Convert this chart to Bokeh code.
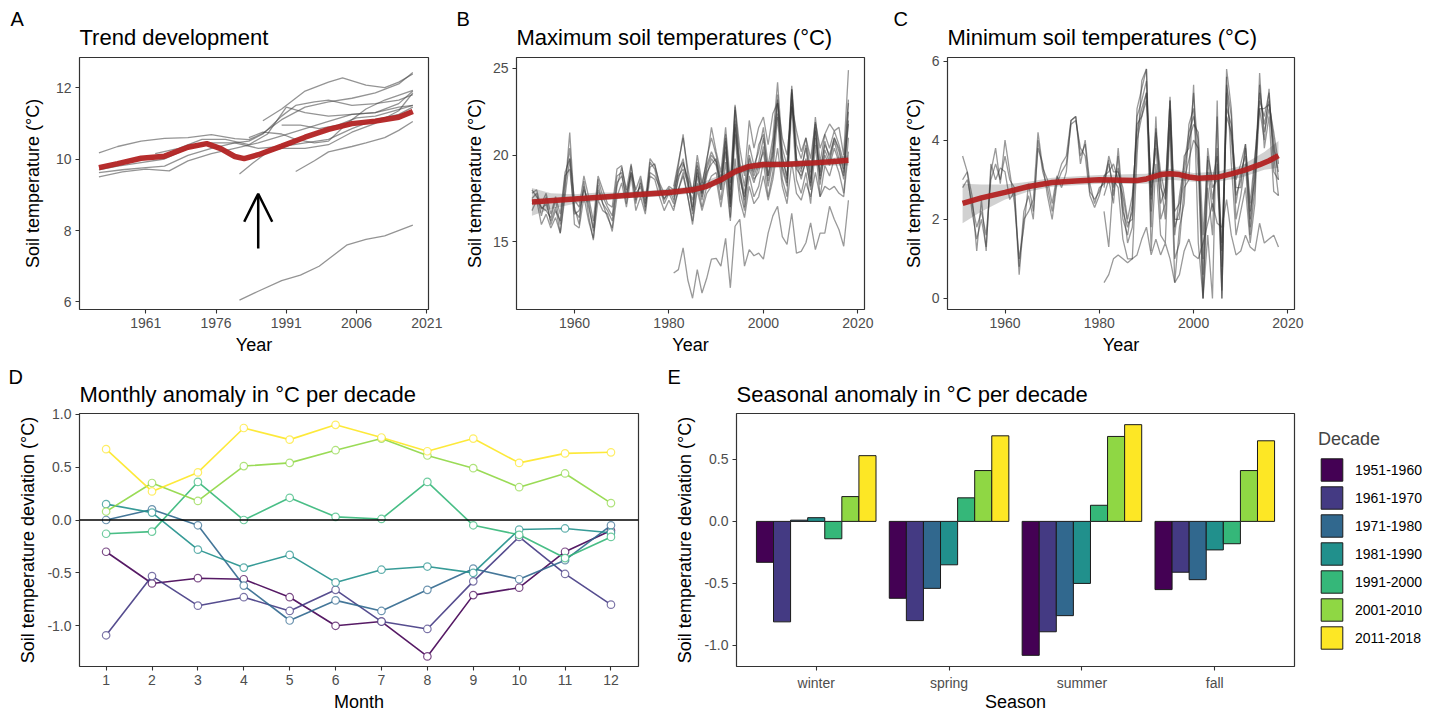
from bokeh.plotting import figure
from bokeh.models import (Range1d, FixedTicker, Title, Arrow, OpenHead, Span,
                          Legend, LegendItem, ColumnDataSource)
from bokeh.layouts import column, row
from bokeh.transform import dodge
from bokeh.embed import file_html
from bokeh.resources import INLINE

FONT = "Liberation Sans"

# ---------------- Panel A: trend development (smoothed station trends) ----------------
a_red_years = [1951, 1955, 1960, 1965, 1970, 1974, 1977, 1980, 1982, 1985, 1990, 1995, 2000, 2005, 2010, 2015, 2018]
a_red_vals = [9.76, 9.87, 10.02, 10.08, 10.33, 10.43, 10.29, 10.07, 10.01, 10.12, 10.36, 10.61, 10.83, 10.99, 11.06, 11.17, 11.33]

a1_years = [1951, 1955, 1960, 1965, 1970, 1975, 1980, 1983, 1986, 1990, 1995, 2000, 2005, 2010, 2015, 2018]
a1_vals = [10.17, 10.35, 10.5, 10.58, 10.6, 10.68, 10.57, 10.54, 10.72, 11.1, 11.45, 11.6, 11.7, 11.85, 12.1, 12.42]
a2_years = [1986, 1990, 1995, 2000, 2003, 2008, 2012, 2015, 2018]
a2_vals = [11.07, 11.4, 11.9, 12.15, 12.27, 12.07, 12.0, 12.15, 12.38]
a3_years = [1951, 1956, 1961, 1966, 1970, 1975, 1980, 1985, 1990, 1995, 2000, 2005, 2010, 2015, 2018]
a3_vals = [9.5, 9.64, 9.72, 9.67, 9.95, 10.15, 10.3, 10.45, 10.65, 10.85, 11.05, 11.25, 11.3, 11.55, 11.9]
a4_years = [1951, 1956, 1961, 1965, 1970, 1975, 1980, 1983, 1986, 1990, 1993, 1997, 2000, 2005, 2010, 2015, 2018]
a4_vals = [9.62, 9.7, 9.76, 9.8, 10.1, 10.3, 10.45, 10.5, 10.7, 11.2, 11.5, 11.6, 11.65, 11.5, 11.55, 11.65, 11.8]
a5_years = [1951, 1955, 1960, 1965, 1970, 1975, 1980, 1985, 1990, 1995, 2000, 2005, 2010, 2015, 2018]
a5_vals = [9.7, 9.8, 9.9, 10.0, 10.3, 10.45, 10.45, 10.3, 10.35, 10.45, 10.55, 10.85, 11.1, 11.25, 11.45]
a6_years = [1963, 1968, 1973, 1978, 1983, 1987, 1991, 1995, 2000, 2005, 2010, 2015, 2018]
a6_vals = [10.15, 10.3, 10.55, 10.55, 10.4, 10.7, 11.45, 11.3, 11.2, 11.25, 11.3, 11.45, 11.5]
a7_years = [1981, 1984, 1987, 1990, 1995, 2000, 2005, 2010, 2015, 2018]
a7_vals = [9.58, 9.9, 10.2, 10.3, 10.3, 10.4, 10.75, 11.0, 11.35, 11.85]
a8_years = [1993, 1997, 2000, 2005, 2008, 2012, 2015, 2018]
a8_vals = [9.65, 9.95, 10.2, 10.35, 10.45, 10.6, 10.8, 11.05]
a9_years = [1990, 1994, 1998, 2002, 2006, 2010, 2014, 2018]
a9_vals = [10.95, 10.95, 10.85, 10.95, 11.15, 11.2, 11.35, 11.5]
a10_years = [1983, 1986, 1990, 1993, 1997, 2000, 2004, 2008, 2012, 2018]
a10_vals = [10.6, 10.75, 10.7, 10.55, 10.45, 10.5, 11.0, 11.4, 11.65, 11.92]
a11_years = [1981, 1985, 1990, 1994, 1998, 2001, 2004, 2008, 2012, 2018]
a11_vals = [6.05, 6.3, 6.6, 6.75, 7.0, 7.3, 7.6, 7.75, 7.85, 8.15]

arrow_year = 1985
arrow_from = 7.5
arrow_to = 9.03

# ---------------- Panel B: maximum soil temperatures ----------------
b_red_years = [1951, 1960, 1970, 1980, 1985, 1988, 1991, 1994, 1997, 2000, 2005, 2010, 2015, 2018]
b_red_vals = [17.3, 17.47, 17.66, 17.85, 18.0, 18.2, 18.58, 19.05, 19.35, 19.46, 19.48, 19.54, 19.64, 19.7]
b_band_years = [1951, 1955, 1960, 1965, 1970, 1980, 1985, 1990, 1995, 2000, 2005, 2010, 2015, 2018]
b_band_lo = [16.5, 16.9, 17.2, 17.35, 17.5, 17.65, 17.8, 18.25, 18.95, 19.25, 19.3, 19.35, 19.4, 19.4]
b_band_hi = [18.1, 17.8, 17.75, 17.85, 17.85, 18.05, 18.2, 18.75, 19.4, 19.65, 19.65, 19.7, 19.85, 20.0]

b_s1 = [17.8, 18.0, 16.9, 17.2, 16.2, 17.0, 15.5, 18.0, 21.3, 17.0,
        16.0, 18.5, 16.5, 15.1, 18.3, 17.2, 16.4, 15.8, 18.2, 19.3,
        18.0, 19.5, 17.2, 18.6, 17.0, 19.3, 19.5, 18.3, 17.4, 18.1,
        17.4, 18.6, 19.5, 18.6, 17.0, 19.2, 17.6, 19.0, 19.5, 19.8,
        18.3, 20.5, 17.0, 22.0, 18.8, 17.4, 19.5, 18.6, 19.0, 20.5,
        18.5, 20.0, 23.5, 19.4, 18.4, 23.8, 19.5, 18.6, 19.8, 18.0,
        21.8, 18.3, 20.3, 19.6, 20.8, 19.8, 18.6, 22.5]
b_s2 = [17.5, 17.8, 16.5, 17.6, 16.0, 16.8, 16.2, 18.8, 19.2, 16.6,
        16.8, 18.0, 17.3, 15.6, 18.6, 17.6, 17.0, 16.5, 18.8, 19.0,
        17.2, 19.4, 17.8, 18.2, 16.8, 19.6, 19.2, 18.0, 17.5, 17.8,
        17.8, 19.0, 19.8, 18.2, 17.4, 19.0, 17.8, 19.4, 20.2, 19.6,
        18.0, 20.8, 17.6, 21.8, 19.0, 17.8, 19.8, 18.8, 19.6, 21.0,
        18.8, 20.2, 22.4, 19.8, 18.8, 23.2, 19.8, 19.2, 20.4, 18.4,
        21.0, 18.8, 20.8, 19.8, 21.0, 20.2, 19.0, 22.0]
b_s3 = [16.8, 17.4, 16.0, 16.6, 15.8, 16.4, 15.5, 17.6, 19.8, 16.0,
        15.8, 17.6, 16.2, 15.2, 17.4, 16.8, 16.6, 15.6, 17.6, 18.4,
        17.0, 18.8, 16.8, 17.6, 16.6, 18.8, 18.6, 17.6, 16.8, 17.4,
        16.8, 18.0, 19.0, 17.6, 16.2, 18.4, 17.0, 18.2, 18.8, 19.0,
        17.4, 19.6, 16.4, 21.2, 18.0, 16.8, 18.8, 17.6, 18.2, 19.6,
        17.6, 19.0, 22.2, 18.6, 17.6, 22.8, 18.6, 17.8, 19.0, 17.2,
        20.6, 17.6, 19.4, 18.8, 19.8, 19.0, 17.8, 21.0]
b_s4 = [18.0, 17.6, 17.2, 17.8, 16.6, 17.6, 16.6, 19.0, 19.8, 17.4,
        17.0, 18.8, 17.6, 16.2, 18.8, 18.0, 17.2, 17.0, 19.2, 19.4,
        17.8, 19.0, 18.0, 18.8, 17.4, 19.8, 19.4, 18.4, 17.8, 18.2,
        18.0, 19.4, 21.2, 18.8, 17.8, 19.6, 18.2, 19.8, 21.0, 20.0,
        18.6, 21.2, 18.0, 22.8, 19.6, 18.2, 20.6, 19.4, 20.2, 21.6,
        19.4, 21.0, 24.2, 20.4, 19.4, 24.0, 20.6, 19.8, 21.0, 19.0,
        22.2, 19.6, 21.2, 20.4, 21.4, 20.6, 19.6, 23.2]
b_s5 = [17.2, 17.4, 17.0, 16.8, 16.4, 17.4, 16.0, 18.4, 20.4, 16.8,
        16.4, 18.2, 17.0, 15.8, 18.0, 17.2, 16.8, 16.2, 18.4, 18.8,
        17.6, 19.0, 17.4, 18.4, 17.2, 19.0, 18.8, 18.2, 17.2, 17.8,
        17.2, 18.8, 19.2, 18.4, 16.8, 18.8, 17.4, 18.8, 19.8, 19.4,
        18.0, 20.2, 17.2, 21.6, 18.6, 17.6, 19.2, 18.4, 19.4, 20.2,
        18.2, 19.6, 23.0, 19.2, 18.2, 23.6, 19.2, 18.8, 19.6, 18.2,
        21.4, 18.6, 20.0, 19.4, 20.4, 19.6, 18.8, 21.8]
# stations starting 1981
b_r1 = [18.2, 19.6, 21.0, 19.2, 17.8, 20.0, 18.4, 19.6, 21.6, 20.2,
        19.0, 21.6, 18.4, 22.9, 20.4, 18.8, 22.0, 20.4, 21.6, 22.2,
        20.6, 22.4, 23.0, 21.0, 20.0, 22.8, 21.4, 20.2, 21.0, 19.8,
        21.9, 20.4, 21.2, 21.8, 21.4, 21.6, 20.0, 24.9]
b_r2 = [17.0, 18.0, 18.8, 17.6, 16.0, 18.0, 16.8, 17.8, 18.2, 18.6,
        17.0, 18.8, 16.2, 19.8, 17.4, 16.4, 18.2, 17.2, 17.6, 18.8,
        17.4, 18.6, 20.4, 18.2, 17.2, 19.6, 17.8, 17.4, 18.4, 17.6,
        19.0, 17.6, 18.2, 18.0, 18.2, 17.8, 17.6, 20.2]
b_r3 = [17.6, 19.2, 19.6, 18.6, 16.6, 19.4, 17.8, 19.2, 20.0, 19.6,
        18.4, 21.0, 17.0, 22.6, 19.2, 17.0, 20.0, 19.0, 20.6, 21.2,
        18.8, 20.6, 23.2, 20.0, 18.6, 23.8, 19.6, 19.0, 20.6, 18.6,
        21.6, 19.0, 20.6, 20.0, 21.0, 20.4, 19.2, 23.0]
b_low = [13.2, 13.4, 14.65, 12.8, 11.75, 13.4, 12.05, 12.9, 14.0, 14.05,
         13.6, 15.2, 12.35, 15.9, 16.3, 13.6, 14.55, 14.2, 14.35, 14.0,
         15.5, 16.5, 17.05, 15.3, 14.85, 16.65, 14.35, 14.45, 14.95, 16.1,
         14.55, 15.5, 15.5, 17.05, 16.3, 15.7, 14.75, 17.4]

# ---------------- Panel C: minimum soil temperatures ----------------
c_red_years = [1951, 1955, 1960, 1965, 1970, 1975, 1980, 1985, 1988, 1990, 1993, 1995, 1997, 1999, 2001, 2005, 2008, 2011, 2014, 2016, 2018]
c_red_vals = [2.4, 2.54, 2.68, 2.83, 2.93, 2.97, 3.0, 2.99, 2.98, 3.02, 3.13, 3.15, 3.13, 3.07, 3.04, 3.06, 3.15, 3.25, 3.38, 3.48, 3.61]
c_band_years = [1951, 1955, 1960, 1965, 1970, 1980, 1990, 1995, 2000, 2005, 2010, 2015, 2018]
c_band_lo = [1.9, 2.2, 2.5, 2.7, 2.82, 2.9, 2.9, 3.0, 2.95, 2.95, 3.05, 3.25, 3.3]
c_band_hi = [2.9, 2.88, 2.88, 2.95, 3.05, 3.12, 3.15, 3.28, 3.17, 3.2, 3.35, 3.7, 3.98]

c_s1 = [3.6, 3.2, 2.6, 1.2, 2.5, 1.2, 3.4, 3.0, 3.3, 3.2,
        2.5, 2.7, 0.6, 2.0, 2.2, 2.5, 4.2, 3.3, 3.0, 2.4,
        3.1, 2.8, 3.2, 4.5, 4.6, 3.4, 4.0, 2.9, 2.4, 2.8,
        2.9, 3.4, 2.8, 3.3, 2.2, 1.8, 2.2, 4.6, 5.0, 5.5,
        2.5, 4.3, 2.8, 2.5, 5.0, 1.8, 2.2, 3.0, 3.5, 4.0,
        3.8, 0.0, 3.5, 2.5, 3.4, 0.2, 5.2, 4.0, 2.6, 3.0,
        3.8, 2.0, 3.5, 5.2, 4.4, 5.0, 4.0, 3.0]
c_s2 = [3.0, 3.2, 2.2, 1.5, 2.0, 1.3, 3.2, 3.8, 2.9, 4.0,
        3.2, 2.4, 1.0, 1.8, 2.9, 2.2, 3.8, 3.4, 2.6, 2.0,
        2.9, 3.2, 3.4, 4.4, 4.5, 3.8, 3.6, 2.6, 2.3, 2.6,
        3.1, 3.2, 3.4, 3.0, 2.6, 1.9, 2.0, 4.8, 5.3, 5.8,
        2.2, 4.0, 3.0, 2.0, 4.8, 1.6, 2.6, 3.4, 4.2, 4.6,
        4.0, 0.6, 3.2, 2.2, 3.8, 0.8, 5.8, 4.8, 2.4, 3.2,
        3.6, 1.8, 3.2, 5.0, 4.6, 5.2, 3.6, 2.6]
c_s3 = [2.8, 3.0, 2.4, 1.8, 2.2, 1.6, 3.0, 3.4, 3.0, 3.6,
        3.0, 2.8, 0.8, 2.2, 2.6, 2.0, 4.0, 3.2, 2.8, 2.2,
        3.0, 3.4, 3.6, 4.5, 4.6, 3.6, 3.9, 2.7, 2.5, 2.7,
        3.0, 3.5, 2.6, 3.6, 2.0, 1.6, 2.4, 4.4, 4.6, 5.2,
        2.8, 3.8, 2.4, 2.8, 5.0, 2.0, 2.0, 3.6, 3.8, 5.2,
        3.6, 1.0, 3.8, 2.8, 3.0, 1.2, 4.8, 4.4, 2.8, 2.8,
        3.9, 2.2, 3.0, 5.4, 4.2, 4.8, 3.8, 3.2]
c_r1 = [2.2, 1.3, 3.0, 2.8, 1.5, 1.0, 1.0, 3.6, 5.5, 5.8,
        1.2, 3.4, 1.6, 1.4, 4.5, 1.0, 1.4, 2.8, 3.0, 5.4,
        1.4, 0.0, 1.6, 0.0, 5.0, 0.0, 5.6, 3.4, 1.6, 2.2,
        2.8, 1.4, 2.4, 5.7, 3.8, 4.6, 2.7, 2.6]
c_r2 = [2.6, 3.0, 2.4, 3.8, 2.4, 1.4, 1.8, 4.0, 4.6, 5.0,
        1.8, 4.6, 2.0, 2.4, 4.4, 0.4, 1.8, 2.4, 4.4, 4.8,
        3.2, 0.0, 2.8, 1.6, 4.6, 0.0, 5.4, 4.6, 2.0, 2.6,
        3.4, 1.6, 2.8, 4.8, 4.0, 5.3, 3.2, 3.0]
c_r3 = [2.8, 3.6, 3.2, 3.2, 2.8, 2.0, 2.6, 4.2, 4.8, 5.2,
        2.6, 4.2, 3.2, 2.6, 5.1, 2.2, 2.4, 3.2, 4.0, 4.4,
        4.2, 1.6, 3.6, 3.0, 3.6, 1.4, 4.6, 4.2, 3.0, 3.4,
        3.9, 2.4, 3.6, 4.8, 4.8, 4.9, 4.2, 3.4]
c_low = [0.4, 0.6, 1.0, 1.1, 1.0, 0.9, 1.0, 1.1, 1.5, 1.8,
         1.1, 1.5, 1.1, 1.4, 1.0, 0.4, 0.6, 1.2, 1.5, 1.1,
         1.0, 1.4, 1.9, 2.4, 1.9, 1.8, 2.5, 1.6, 1.1, 1.2,
         1.6, 1.3, 1.2, 1.9, 1.4, 1.5, 1.6, 1.3]

# ---------------- Panel D: monthly anomaly per decade ----------------
months = [1, 2, 3, 4, 5, 6, 7, 8, 9, 10, 11, 12]
d_1951 = [-0.30, -0.60, -0.55, -0.56, -0.73, -1.00, -0.96, -1.29, -0.71, -0.64, -0.30, -0.10]
d_1961 = [-1.09, -0.53, -0.81, -0.73, -0.86, -0.66, -0.96, -1.03, -0.58, -0.16, -0.51, -0.80]
d_1971 = [0.00, 0.10, -0.05, -0.62, -0.95, -0.76, -0.86, -0.66, -0.46, -0.56, -0.38, -0.05]
d_1981 = [0.15, 0.07, -0.28, -0.45, -0.33, -0.59, -0.47, -0.44, -0.50, -0.09, -0.08, -0.12]
d_1991 = [-0.13, -0.11, 0.36, 0.00, 0.21, 0.03, 0.01, 0.36, -0.05, -0.14, -0.36, -0.16]
d_2001 = [0.08, 0.35, 0.18, 0.51, 0.54, 0.66, 0.77, 0.61, 0.49, 0.31, 0.44, 0.16]
d_2011 = [0.67, 0.27, 0.45, 0.87, 0.76, 0.90, 0.78, 0.65, 0.77, 0.54, 0.63, 0.64]

# ---------------- Panel E: seasonal anomaly per decade ----------------
seasons = ["winter", "spring", "summer", "fall"]
e_1951 = [-0.33, -0.62, -1.08, -0.55]
e_1961 = [-0.81, -0.80, -0.89, -0.41]
e_1971 = [0.01, -0.54, -0.76, -0.47]
e_1981 = [0.03, -0.35, -0.50, -0.23]
e_1991 = [-0.14, 0.19, 0.13, -0.18]
e_2001 = [0.20, 0.41, 0.685, 0.41]
e_2011 = [0.53, 0.69, 0.78, 0.65]

decades = ["1951-1960", "1961-1970", "1971-1980", "1981-1990", "1991-2000", "2001-2010", "2011-2018"]
viridis7 = ["#440154", "#443A83", "#31688E", "#21908C", "#35B779", "#8FD744", "#FDE725"]

dev_ticks = [-1.0, -0.5, 0.0, 0.5, 1.0]
dev_labels = ["-1.0", "-0.5", "0.0", "0.5", "1.0"]


# ---------------- helpers ----------------
def make_fig(xr, yr, bl, fw, br, bt, fh, bb, letter, letter_offset, title, ylab_standoff,
             title_standoff, letter_standoff):
    p = figure(x_range=Range1d(*xr), y_range=Range1d(*yr),
               frame_width=fw, frame_height=fh,
               min_border_left=bl, min_border_right=br,
               min_border_top=bt, min_border_bottom=bb,
               output_backend="svg", toolbar_location=None, title=letter)
    # panel letter (outermost title); negative standoff lets it sit level with the main title
    p.title.text_font = FONT
    p.title.text_font_size = "20px"
    p.title.text_font_style = "normal"
    p.title.text_color = "black"
    p.title.align = "left"
    p.title.vertical_align = "bottom"
    p.title.offset = letter_offset
    p.title.standoff = letter_standoff
    t = Title(text=title, text_font=FONT, text_font_size="22px", text_font_style="normal",
              text_color="black", align="left", vertical_align="top", standoff=title_standoff)
    p.add_layout(t, "above")
    p.xgrid.visible = False
    p.ygrid.visible = False
    p.outline_line_color = "#333333"
    p.outline_line_width = 1.2
    p.border_fill_color = "white"
    p.background_fill_color = "white"
    for ax in (p.xaxis[0], p.yaxis[0]):
        ax.axis_line_color = None
        ax.major_tick_line_color = "#333333"
        ax.major_tick_line_width = 1.1
        ax.major_tick_out = 4
        ax.major_tick_in = 0
        ax.minor_tick_line_color = None
        ax.major_label_text_font = FONT
        ax.major_label_text_font_size = "14px"
        ax.major_label_text_color = "#4D4D4D"
        ax.axis_label_text_font = FONT
        ax.axis_label_text_font_size = "18px"
        ax.axis_label_text_font_style = "normal"
        ax.axis_label_text_color = "black"
        ax.major_label_standoff = 4
    p.xaxis[0].axis_label_standoff = 4
    p.yaxis[0].axis_label_standoff = ylab_standoff
    return p


GRAY_A = "#4D4D4D"
GRAY_BC = "#333333"
RED = "#B22222"
TOP_TS, TOP_LS = 12, -22
BOT_TS, BOT_LS = 10, -22

# ---------------- Panel A ----------------
pA = make_fig((1946.85, 2021.35), (5.79, 12.84), 79, 349, 24, 57, 252, 48, "A", -69,
              "Trend development", 10, TOP_TS, TOP_LS)
for ys, vs in [(a1_years, a1_vals), (a2_years, a2_vals), (a3_years, a3_vals), (a4_years, a4_vals),
               (a5_years, a5_vals), (a6_years, a6_vals), (a7_years, a7_vals), (a8_years, a8_vals),
               (a9_years, a9_vals), (a10_years, a10_vals), (a11_years, a11_vals)]:
    pA.line(ys, vs, line_color=GRAY_A, line_alpha=0.6, line_width=1.3)
pA.line(a_red_years, a_red_vals, line_color=RED, line_width=5.5, line_alpha=0.95)
pA.add_layout(Arrow(end=OpenHead(size=28, line_width=2.5, line_color="black"),
                    x_start=arrow_year, y_start=arrow_from, x_end=arrow_year, y_end=arrow_to,
                    line_width=2.5, line_color="black"))
pA.xaxis.ticker = FixedTicker(ticks=[1961, 1976, 1991, 2006, 2021])
pA.yaxis.ticker = FixedTicker(ticks=[6, 8, 10, 12])
pA.xaxis.axis_label = "Year"
pA.yaxis.axis_label = "Soil temperature (°C)"

# ---------------- Panel B ----------------
pB = make_fig((1947.73, 2021.4), (11.1, 25.63), 64, 348, 20, 57, 252, 48, "B", -60,
              "Maximum soil temperatures (°C)", 5, TOP_TS, TOP_LS)
pB.varea(x=b_band_years, y1=b_band_lo, y2=b_band_hi, fill_color="#999999", fill_alpha=0.45)
for s in [b_s1, b_s2, b_s3, b_s4, b_s5]:
    pB.line(list(range(1951, 1951 + len(s))), s, line_color=GRAY_BC, line_alpha=0.5, line_width=1.3)
for s in [b_r1, b_r2, b_r3, b_low]:
    pB.line(list(range(1981, 1981 + len(s))), s, line_color=GRAY_BC, line_alpha=0.5, line_width=1.3)
pB.line(b_red_years, b_red_vals, line_color=RED, line_width=5.5, line_alpha=0.95)
pB.xaxis.ticker = FixedTicker(ticks=[1960, 1980, 2000, 2020])
pB.yaxis.ticker = FixedTicker(ticks=[15, 20, 25])
pB.xaxis.axis_label = "Year"
pB.yaxis.axis_label = "Soil temperature (°C)"

# ---------------- Panel C ----------------
pC = make_fig((1947.8, 2021.4), (-0.28, 6.09), 63, 347, 36, 57, 252, 48, "C", -54,
              "Minimum soil temperatures (°C)", 5, TOP_TS, TOP_LS)
pC.varea(x=c_band_years, y1=c_band_lo, y2=c_band_hi, fill_color="#999999", fill_alpha=0.45)
for s in [c_s1, c_s2, c_s3]:
    pC.line(list(range(1951, 1951 + len(s))), s, line_color=GRAY_BC, line_alpha=0.5, line_width=1.3)
for s in [c_r1, c_r2, c_r3, c_low]:
    pC.line(list(range(1981, 1981 + len(s))), s, line_color=GRAY_BC, line_alpha=0.5, line_width=1.3)
pC.line(c_red_years, c_red_vals, line_color=RED, line_width=5.5, line_alpha=0.95)
pC.xaxis.ticker = FixedTicker(ticks=[1960, 1980, 2000, 2020])
pC.yaxis.ticker = FixedTicker(ticks=[0, 2, 4, 6])
pC.xaxis.axis_label = "Year"
pC.yaxis.axis_label = "Soil temperature (°C)"

# ---------------- Panel D ----------------
pD = make_fig((0.42, 12.6), (-1.385, 1.007), 79, 559, 22, 56, 253, 40, "D", -71,
              "Monthly anomaly in °C per decade", 6, BOT_TS, BOT_LS)
pD.add_layout(Span(location=0, dimension="width", line_color="black", line_width=1.6))
for vals, col in zip([d_1951, d_1961, d_1971, d_1981, d_1991, d_2001, d_2011], viridis7):
    pD.line(months, vals, line_color=col, line_width=1.6, line_alpha=0.9)
    pD.scatter(months, vals, marker="circle", size=7.5, fill_color="white", line_color=col,
               line_alpha=0.7, line_width=1.2)
pD.xaxis.ticker = FixedTicker(ticks=months)
pD.yaxis.ticker = FixedTicker(ticks=dev_ticks)
pD.yaxis.major_label_overrides = {t: l for t, l in zip(dev_ticks, dev_labels)}
pD.xaxis.axis_label = "Month"
pD.yaxis.axis_label = "Soil temperature deviation (°C)"

# ---------------- Panel E ----------------
pE = make_fig((0.4, 4.6), (-1.17, 0.87), 76, 558, 143, 56, 253, 40, "E", -69,
              "Seasonal anomaly in °C per decade", 6, BOT_TS, BOT_LS)
season_pos = list(range(1, len(seasons) + 1))
n_dec = len(decades)
bar_w = 0.9 / n_dec
items = []
for k, (vals, col, dec) in enumerate(zip([e_1951, e_1961, e_1971, e_1981, e_1991, e_2001, e_2011],
                                          viridis7, decades)):
    src = ColumnDataSource(dict(x=season_pos, top=vals))
    off = -0.45 + (k + 0.5) * bar_w
    r = pE.vbar(x=dodge("x", off), top="top", bottom=0, width=bar_w, source=src,
                fill_color=col, line_color="#1A1A1A", line_width=1)
    items.append(LegendItem(label=dec, renderers=[r]))
legend = Legend(items=items, location="center_left", title="Decade",
                title_text_font=FONT, title_text_font_size="18px", title_text_font_style="normal",
                title_standoff=6, label_text_font=FONT, label_text_font_size="14px",
                label_text_color="black", glyph_width=27, glyph_height=28, label_height=28,
                spacing=0, label_standoff=10, padding=4, margin=24,
                border_line_color=None, background_fill_alpha=0)
pE.add_layout(legend, "right")
pE.xaxis.ticker = FixedTicker(ticks=season_pos)
pE.xaxis.major_label_overrides = {i: s for i, s in zip(season_pos, seasons)}
pE.xaxis.axis_label_standoff = -2
pE.yaxis.ticker = FixedTicker(ticks=dev_ticks[:-1])
pE.yaxis.major_label_overrides = {t: l for t, l in zip(dev_ticks, dev_labels)}
pE.xaxis.axis_label = "Season"
pE.yaxis.axis_label = "Soil temperature deviation (°C)"

layout = column(row(pA, pB, pC), row(pD, pE))
open("out.html", "w").write(file_html(layout, INLINE))
